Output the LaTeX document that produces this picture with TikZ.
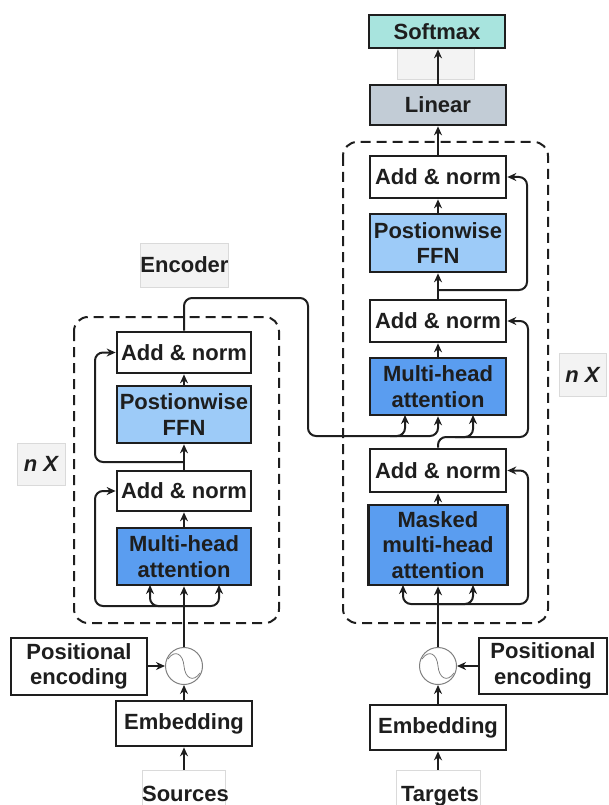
\documentclass[tikz,border=0pt]{standalone}
\usepackage{fontspec}
\setmainfont{Liberation Sans}
\usetikzlibrary{arrows.meta}
\definecolor{lblue}{HTML}{9DCBF8}
\definecolor{mblue}{HTML}{5A9DF0}
\definecolor{smcol}{HTML}{A8E4DE}
\definecolor{lincol}{HTML}{C2CCD6}
\definecolor{lblfill}{HTML}{F3F3F3}
\definecolor{lbldraw}{HTML}{DADADA}
\definecolor{ink}{HTML}{1E1E1E}
\begin{document}
\begin{tikzpicture}[x=1pt,y=-1pt,
  box/.style={draw=ink, line width=2.7pt, inner sep=0pt, font=\bfseries\fontsize{22}{25.5}\selectfont, text=ink, align=center},
  arr/.style={-{Stealth[length=9pt,width=8pt]}, line width=2pt, draw=ink, rounded corners=8pt},
  dashbox/.style={draw=ink, line width=2pt, dash pattern=on 10pt off 6pt, rounded corners=14pt},
  lbl/.style={draw=lbldraw, fill=lblfill, line width=1pt, inner sep=0pt, font=\bfseries\fontsize{22}{25.5}\selectfont, text=ink, align=center},
  tbox/.style={draw=lbldraw, fill=white, line width=1pt, inner sep=0pt},
  ttext/.style={font=\bfseries\fontsize{22}{25.5}\selectfont, text=ink, inner sep=0pt, anchor=base},
  mix/.style={circle, draw=gray, line width=1pt, minimum size=37pt, inner sep=0pt, fill=white}
]
\useasboundingbox (0,0) rectangle (608,805);

% dashed blocks
\draw[dashbox] (74,317) rectangle (279,623);
\draw[dashbox] (343,142) rectangle (548,623);

% labels
\node[lbl, minimum width=83pt, minimum height=44pt] (enclbl) at (184.5,265) {Encoder};
\node[lbl, minimum width=48pt, minimum height=42pt] (nxl) at (41,464) {\itshape n X};
\node[lbl, minimum width=47pt, minimum height=43pt] (nxr) at (582.5,374.5) {\itshape n X};

% ---------- Encoder ----------
\node[box, fill=white, minimum width=134pt, minimum height=41pt] (encAN2) at (184,352.5) {Add \& norm};
\node[box, fill=lblue, minimum width=134pt, minimum height=57pt] (encFFN) at (184,414.5) {Postionwise\\FFN};
\node[box, fill=white, minimum width=134pt, minimum height=40pt] (encAN1) at (184,491) {Add \& norm};
\node[box, fill=mblue, minimum width=134pt, minimum height=57pt] (encMHA) at (184,556.5) {Multi-head\\attention};
\node[mix] (circL) at (184,666) {};
\node[box, fill=white, minimum width=136pt, minimum height=57pt] (peL) at (79,666.5) {Positional\\encoding};
\node[box, fill=white, minimum width=136pt, minimum height=45pt] (embL) at (184,723.5) {Embedding};
\node[tbox, minimum width=83pt, minimum height=42pt] (srcbox) at (184,791) {};
\node[ttext] (src) at (185.5,801) {Sources};

% ---------- Decoder ----------
\node[lbl, minimum width=77pt, minimum height=32pt] (gbox) at (435.5,64) {};
\node[box, fill=smcol, minimum width=136pt, minimum height=33pt] (smax) at (437,31.5) {Softmax};
\node[box, fill=lincol, minimum width=136pt, minimum height=40pt] (lin) at (438,105) {Linear};
\node[box, fill=white, minimum width=136pt, minimum height=42pt] (decAN3) at (438,177) {Add \& norm};
\node[box, fill=lblue, minimum width=136pt, minimum height=58pt] (decFFN) at (438,243) {Postionwise\\FFN};
\node[box, fill=white, minimum width=136pt, minimum height=42pt] (decAN2) at (438,321) {Add \& norm};
\node[box, fill=mblue, minimum width=136pt, minimum height=57pt] (decMHA) at (438,386.5) {Multi-head\\attention};
\node[box, fill=white, minimum width=136pt, minimum height=43pt] (decAN1) at (438,470.5) {Add \& norm};
\node[box, fill=mblue, minimum width=139pt, minimum height=80pt] (decMMHA) at (438,545) {Masked\\multi-head\\attention};
\node[mix] (circR) at (438,666) {};
\node[box, fill=white, minimum width=128pt, minimum height=56pt] (peR) at (543,666) {Positional\\encoding};
\node[box, fill=white, minimum width=136pt, minimum height=45pt] (embR) at (438,727.5) {Embedding};
\node[tbox, minimum width=84pt, minimum height=42pt] (tgtbox) at (438,791) {};
\node[ttext] (tgt) at (440,801) {Targets};

% mixer glyphs
\begin{scope}[shift={(184,666)}]
\draw[gray, line width=0.8pt] (-16,-7) .. controls (-9,-17) and (-1,-12) .. (0,0) .. controls (1,12) and (9,17) .. (16,7);
\end{scope}
\begin{scope}[shift={(438,666)}]
\draw[gray, line width=0.8pt] (-16,-7) .. controls (-9,-17) and (-1,-12) .. (0,0) .. controls (1,12) and (9,17) .. (16,7);
\end{scope}

% ---------- Encoder connectors ----------
\draw[arr] (srcbox.north) -- (embL.south);
\draw[arr] (embL) -- (circL);
\draw[arr] (peL.east |- circL) -- (circL.west);
\draw[arr] (circL) -- (encMHA);
\draw[arr] (184,606) -| (150,585);
\draw[arr] (184,606) -| (219,585);
\draw[arr] (184,606) -- (95,606) |- (encAN1.west);
\draw[arr] (encMHA) -- (encAN1);
\draw[arr] (encAN1) -- (encFFN);
\draw[arr] (184,462) -- (95,462) |- (encAN2.west);
\draw[arr] (encFFN) -- (encAN2);
% encoder -> decoder
\draw[arr] (encAN2.north) -- (184,298) -- (308,298) -- (308,436) -- (405,436) -- (405,415);
\draw[arr] (390,436) -| (decMHA.south);

% ---------- Decoder connectors ----------
\draw[arr] (tgtbox.north) -- (embR.south);
\draw[arr] (embR) -- (circR);
\draw[arr] (peR.west |- circR) -- (circR.east);
\draw[arr] (circR) -- (decMMHA);
\draw[arr] (438,604) -| (403,585);
\draw[arr] (438,604) -| (473,585);
\draw[arr] (438,604) -- (528,604) |- (decAN1.east);
\draw[arr] (decMMHA) -- (decAN1);
\draw[arr] (decAN1.north) |- (528,437) |- (decAN2.east);
\draw[arr] (455,437) -| (473,415);
\draw[arr] (decMHA) -- (decAN2);
\draw[arr] (decAN2) -- (decFFN);
\draw[arr] (438,290) -- (527,290) |- (decAN3.east);
\draw[arr] (decFFN) -- (decAN3);
\draw[arr] (decAN3) -- (lin);
\draw[arr] (lin.north) -- (lin.north |- smax.south);
\end{tikzpicture}
\end{document}
